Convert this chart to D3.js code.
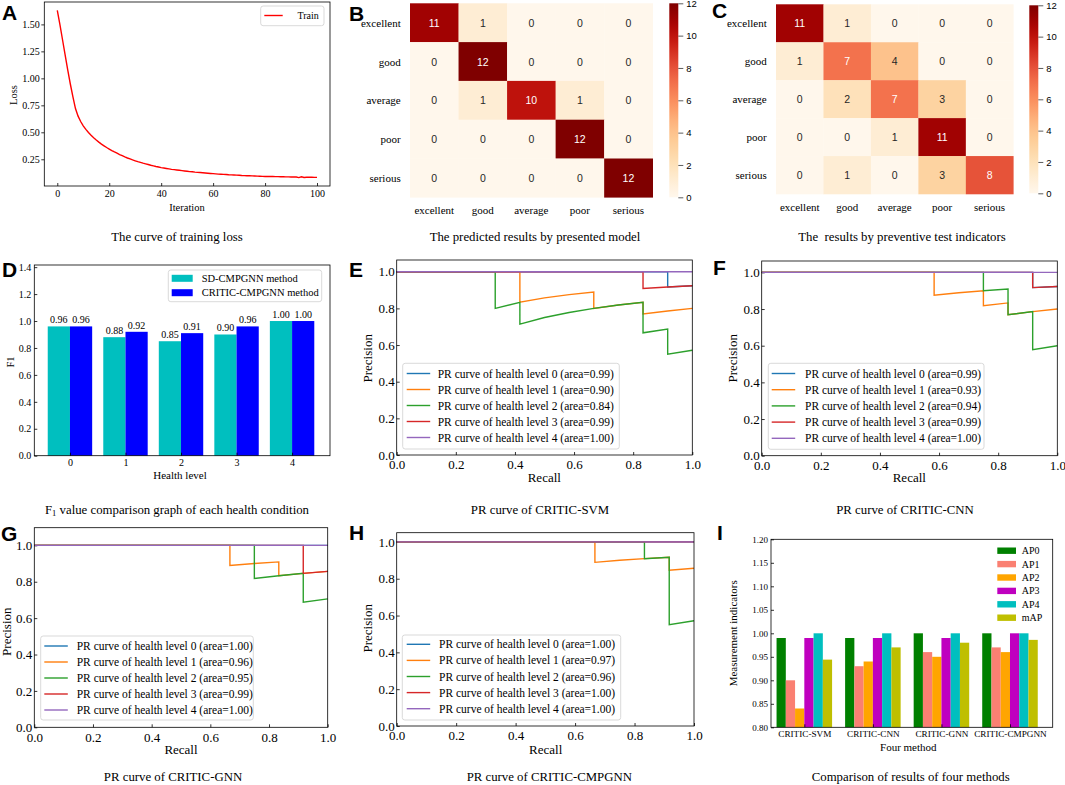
<!DOCTYPE html>
<html>
<head>
<meta charset="utf-8">
<title>Health level evaluation results</title>
<script src="https://d3js.org/d3.v7.min.js"></script>
<style>
  body { margin: 0; background: #fff; }
  svg text { font-family: "Liberation Serif", "Times New Roman", serif; fill: #000; }
  svg text.sans { font-family: "Liberation Sans", Arial, sans-serif; }
  svg text.letter { font-family: "Liberation Sans", Arial, sans-serif; font-weight: bold; font-size: 21px; }
</style>
</head>
<body>
<div id="fig"></div>
<script>

// ---- data ----
var lossTrain = [
  1.63, 1.50, 1.36, 1.22, 1.08, 0.95, 0.83, 0.72, 0.65, 0.60,
  0.56, 0.527, 0.498, 0.472, 0.449, 0.428, 0.409, 0.391, 0.375, 0.359,
  0.345, 0.331, 0.318, 0.306, 0.294, 0.283, 0.272, 0.262, 0.253, 0.244,
  0.236, 0.228, 0.221, 0.214, 0.208, 0.202, 0.195, 0.189, 0.183, 0.178,
  0.173, 0.169, 0.165, 0.161, 0.157, 0.154, 0.151, 0.148, 0.145, 0.142,
  0.139, 0.136, 0.134, 0.131, 0.129, 0.127, 0.125, 0.123, 0.121, 0.119,
  0.117, 0.115, 0.113, 0.112, 0.110, 0.109, 0.107, 0.106, 0.105, 0.103,
  0.102, 0.100, 0.099, 0.098, 0.097, 0.096, 0.095, 0.094, 0.093, 0.092,
  0.091, 0.091, 0.090, 0.090, 0.089, 0.089, 0.088, 0.088, 0.087, 0.087,
  0.086, 0.086, 0.086, 0.080, 0.088, 0.082, 0.084, 0.083, 0.083, 0.082,
  0.082
];
var lossTicks = [0, 20, 40, 60, 80, 100];
var lossYTicks = [0.25, 0.50, 0.75, 1.00, 1.25, 1.50];

var levels = ["excellent", "good", "average", "poor", "serious"];
var cmPresented = [
  [11, 1, 0, 0, 0],
  [0, 12, 0, 0, 0],
  [0, 1, 10, 1, 0],
  [0, 0, 0, 12, 0],
  [0, 0, 0, 0, 12]
];
var cmIndicators = [
  [11, 1, 0, 0, 0],
  [1, 7, 4, 0, 0],
  [0, 2, 7, 3, 0],
  [0, 0, 1, 11, 0],
  [0, 1, 0, 3, 8]
];
var cbTicks = [0, 2, 4, 6, 8, 10, 12];

var healthLevels = [0, 1, 2, 3, 4];
var f1SD = [0.96, 0.88, 0.85, 0.90, 1.00];
var f1Critic = [0.96, 0.92, 0.91, 0.96, 1.00];
var f1Ticks = [0, 0.2, 0.4, 0.6, 0.8, 1.0, 1.2, 1.4];
var f1Names = ["SD-CMPGNN method", "CRITIC-CMPGNN method"];

var prTicks = [0, 0.2, 0.4, 0.6, 0.8, 1.0];
var prColors = ["#1f77b4", "#ff7f0e", "#2ca02c", "#d62728", "#9467bd"];

var svmRecall = [
  [0, 0.9167, 0.9167, 1],
  [0, 0.4167, 0.4167, 0.5, 0.5833, 0.6667, 0.6667, 0.75, 0.8333, 0.8333, 0.9167, 1],
  [0, 0.3333, 0.3333, 0.4167, 0.4167, 0.5, 0.5833, 0.6667, 0.75, 0.8333, 0.8333, 0.9167, 0.9167, 1],
  [0, 0.8333, 0.8333, 0.9167, 1],
  [0, 1]
];
var svmPrecision = [
  [1, 1, 0.9167, 0.9231],
  [1, 1, 0.8333, 0.8571, 0.875, 0.8889, 0.8, 0.8182, 0.8333, 0.7692, 0.7857, 0.8],
  [1, 1, 0.8, 0.8333, 0.7143, 0.75, 0.7778, 0.8, 0.8182, 0.8333, 0.6667, 0.6875, 0.55, 0.5714],
  [1, 1, 0.9091, 0.9167, 0.9231],
  [1, 1]
];
var svmArea = [0.99, 0.90, 0.84, 0.99, 1.00];

var cnnRecall = [
  [0, 0.9167, 0.9167, 1],
  [0, 0.5833, 0.5833, 0.6667, 0.75, 0.75, 0.8333, 0.8333, 0.9167, 1],
  [0, 0.75, 0.75, 0.8333, 0.8333, 0.9167, 0.9167, 1],
  [0, 0.9167, 0.9167, 1],
  [0, 1]
];
var cnnPrecision = [
  [1, 1, 0.9167, 0.9231],
  [1, 1, 0.875, 0.8889, 0.9, 0.8182, 0.8333, 0.7692, 0.7857, 0.8],
  [1, 1, 0.9, 0.9091, 0.7692, 0.7857, 0.5789, 0.6],
  [1, 1, 0.9167, 0.9231],
  [1, 1]
];
var cnnArea = [0.99, 0.93, 0.94, 0.99, 1.00];

var gnnRecall = [
  [0, 1],
  [0, 0.6667, 0.6667, 0.75, 0.8333, 0.8333, 0.9167, 1],
  [0, 0.75, 0.75, 0.8333, 0.9167, 0.9167, 1],
  [0, 0.9167, 0.9167, 1],
  [0, 1]
];
var gnnPrecision = [
  [1, 1],
  [1, 1, 0.8889, 0.9, 0.9091, 0.8333, 0.8462, 0.8571],
  [1, 1, 0.8182, 0.8333, 0.8462, 0.6875, 0.7059],
  [1, 1, 0.8462, 0.8571],
  [1, 1]
];
var gnnArea = [1.00, 0.96, 0.95, 0.99, 1.00];

var cmpRecall = [
  [0, 1],
  [0, 0.6667, 0.6667, 0.75, 0.8333, 0.9167, 0.9167, 1],
  [0, 0.8333, 0.8333, 0.9167, 0.9167, 1],
  [0, 1],
  [0, 1]
];
var cmpPrecision = [
  [1, 1],
  [1, 1, 0.8889, 0.9, 0.9091, 0.9167, 0.8462, 0.8571],
  [1, 1, 0.9091, 0.9167, 0.55, 0.5714],
  [1, 1],
  [1, 1]
];
var cmpArea = [1.00, 0.97, 0.96, 1.00, 1.00];

var methods = ["CRITIC-SVM", "CRITIC-CNN", "CRITIC-GNN", "CRITIC-CMPGNN"];
var apNames = ["AP0", "AP1", "AP2", "AP3", "AP4", "mAP"];
var apColors = ["#008000", "#fa8072", "#ffa500", "#bf00bf", "#00bfbf", "#bfbf00"];
var ap0 = [0.99, 0.99, 1.00, 1.00];
var ap1 = [0.90, 0.93, 0.96, 0.97];
var ap2 = [0.84, 0.94, 0.95, 0.96];
var ap3 = [0.99, 0.99, 0.99, 1.00];
var ap4 = [1.00, 1.00, 1.00, 1.00];
var mAP = [0.944, 0.97, 0.98, 0.986];
var apTicks = [0.80, 0.85, 0.90, 0.95, 1.00, 1.05, 1.10, 1.15, 1.20];

// ---- drawing ----
var svg = d3.select("#fig").append("svg")
    .attr("width", 1065)
    .attr("height", 785);

function styleAxis(g, fs, cls) {
  g.attr("font-family", null).attr("font-size", fs);
  g.select(".domain").remove();
  g.selectAll(".tick line").attr("stroke", "#000").attr("stroke-width", 0.8);
  g.selectAll(".tick text").attr("fill", "#000");
  if (cls) g.selectAll(".tick text").attr("class", cls);
}

function frame(x0, y0, x1, y1) {
  svg.append("rect")
     .attr("x", x0).attr("y", y0)
     .attr("width", x1 - x0).attr("height", y1 - y0)
     .attr("fill", "none").attr("stroke", "#000").attr("stroke-width", 0.8);
}

function label(txt, x, y, fs, rot, anchor) {
  var t = svg.append("text")
     .attr("x", x).attr("y", y)
     .attr("font-size", fs)
     .attr("text-anchor", anchor || "middle")
     .attr("dominant-baseline", "central")
     .text(txt);
  if (rot) t.attr("transform", "rotate(-90," + x + "," + y + ")");
  return t;
}

function legendBox(x0, y0, x1, y1) {
  svg.append("rect")
     .attr("x", x0).attr("y", y0)
     .attr("width", x1 - x0).attr("height", y1 - y0)
     .attr("rx", 2.5)
     .attr("fill", "#fff").attr("fill-opacity", 0.8)
     .attr("stroke", "#cfcfcf").attr("stroke-width", 0.8);
}

// panel letters
[["A", 2, 20], ["B", 349, 21], ["C", 712, 18], ["D", 2, 277], ["E", 349, 277],
 ["F", 713, 275], ["G", 1, 541], ["H", 349, 540], ["I", 717, 540]].forEach(function(d_){
  svg.append("text").attr("class", "letter").attr("x", d_[1]).attr("y", d_[2]).text(d_[0]);
});

// ---- A: training loss ----
var xA = d3.scaleLinear().domain([-5, 105]).range([44.3, 330]);
var yA = d3.scaleLinear().domain([0.0025, 1.7075]).range([186, 2]);

svg.append("g").attr("transform", "translate(0,186)")
   .call(d3.axisBottom(xA).tickValues(lossTicks).tickFormat(d3.format("d")).tickSizeInner(-3).tickSizeOuter(0).tickPadding(4))
   .call(styleAxis, 10);
svg.append("g").attr("transform", "translate(44.3,0)")
   .call(d3.axisLeft(yA).tickValues(lossYTicks).tickFormat(d3.format(".2f")).tickSizeInner(3).tickSizeOuter(0).tickPadding(1.5))
   .call(styleAxis, 10);

svg.append("path")
   .datum(lossTrain)
   .attr("fill", "none").attr("stroke", "#ff0000").attr("stroke-width", 1.4)
   .attr("d", d3.line().x(function(d_, i_){ return xA(i_); }).y(function(d_){ return yA(d_); }));
frame(44.3, 2, 330, 186);

legendBox(260.7, 6, 324, 25.7);
svg.append("line").attr("x1", 264.3).attr("x2", 282.7).attr("y1", 15.5).attr("y2", 15.5)
   .attr("stroke", "#ff0000").attr("stroke-width", 1.4);
label("Train", 297.5, 15.5, 10, false, "start");

label("Loss", 13, 95, 10.5, true);
label("Iteration", 187, 207.5, 10.5);
label("The curve of training loss", 177, 237, 12.8);

// ---- B, C: confusion matrices ----
var cmColor = d3.scaleSequential(d3.interpolateOrRd).domain([0, 12]);

var grad = svg.append("defs").append("linearGradient")
   .attr("id", "orrd").attr("x1", 0).attr("x2", 0).attr("y1", 1).attr("y2", 0);
d3.range(0, 1.0001, 0.05).forEach(function(t_){
  grad.append("stop").attr("offset", t_).attr("stop-color", d3.interpolateOrRd(t_));
});

function heatmap(m, x0, x1, y0, y1, cb, rowX, colY) {
  var xs = d3.scaleBand().domain(levels).range([x0, x1]);
  var ys = d3.scaleBand().domain(levels).range([y0, y1]);
  var g = svg.append("g");
  m.forEach(function(row, r){
    row.forEach(function(v, c){
      g.append("rect")
       .attr("x", xs(levels[c])).attr("y", ys(levels[r]))
       .attr("width", xs.bandwidth() + 0.3).attr("height", ys.bandwidth() + 0.3)
       .attr("fill", cmColor(v));
      g.append("text").attr("class", "sans")
       .attr("x", xs(levels[c]) + xs.bandwidth() / 2)
       .attr("y", ys(levels[r]) + ys.bandwidth() / 2)
       .attr("text-anchor", "middle").attr("dominant-baseline", "central")
       .attr("font-size", 10.5)
       .style("fill", v >= 7 ? "#fff" : "#262626")
       .text(v);
    });
  });
  levels.forEach(function(l_){
    label(l_, rowX, ys(l_) + ys.bandwidth() / 2, 11, false, "end");
    label(l_, xs(l_) + xs.bandwidth() / 2, colY, 11);
  });
  svg.append("rect")
     .attr("x", cb[0]).attr("y", cb[2]).attr("width", cb[1] - cb[0]).attr("height", cb[3] - cb[2])
     .attr("fill", "url(#orrd)");
  var cs = d3.scaleLinear().domain([0, 12]).range([cb[3], cb[2]]);
  svg.append("g").attr("transform", "translate(" + cb[1] + ",0)")
     .call(d3.axisRight(cs).tickValues(cbTicks).tickSize(5).tickPadding(3))
     .call(styleAxis, 9.5, "sans")
     .selectAll(".tick line").attr("stroke", "#333");
}

heatmap(cmPresented, 410, 652.7, 3.3, 197.3, [669.3, 678.3, 3.3, 197.3], 400.7, 210);
label("The predicted results by presented model", 535, 237, 12.8);

heatmap(cmIndicators, 776, 1013.3, 4.3, 194, [1029.3, 1038.3, 5.3, 193.3], 766.7, 207);
label("The  results by preventive test indicators", 902, 237, 12.8).style("white-space", "pre");

// ---- D: F1 bars ----
var xD = d3.scaleLinear().domain([-0.642, 4.683]).range([34.3, 330]);
var yD = d3.scaleLinear().domain([0, 1.416]).range([455.7, 265]);
var barW = 0.4;

svg.append("g").selectAll("rect.sd").data(f1SD).enter().append("rect")
   .attr("x", function(d_, i_){ return xD(healthLevels[i_] - barW); })
   .attr("width", xD(barW) - xD(0))
   .attr("y", function(d_){ return yD(d_); })
   .attr("height", function(d_){ return yD(0) - yD(d_); })
   .attr("fill", "#00bfbf");
svg.append("g").selectAll("rect.cr").data(f1Critic).enter().append("rect")
   .attr("x", function(d_, i_){ return xD(healthLevels[i_]); })
   .attr("width", xD(barW) - xD(0))
   .attr("y", function(d_){ return yD(d_); })
   .attr("height", function(d_){ return yD(0) - yD(d_); })
   .attr("fill", "#0000ff");
[[f1SD, -barW / 2], [f1Critic, barW / 2]].forEach(function(s_){
  s_[0].forEach(function(v, i_){
    svg.append("text")
       .attr("x", xD(healthLevels[i_] + s_[1])).attr("y", yD(v) - 3)
       .attr("text-anchor", "middle").attr("font-size", 10)
       .text(d3.format(".2f")(v));
  });
});

svg.append("g").attr("transform", "translate(0,455.7)")
   .call(d3.axisBottom(xD).tickValues(healthLevels).tickFormat(d3.format("d")).tickSizeInner(-3).tickSizeOuter(0).tickPadding(3))
   .call(styleAxis, 10);
svg.append("g").attr("transform", "translate(34.3,0)")
   .call(d3.axisLeft(yD).tickValues(f1Ticks).tickFormat(d3.format(".1f")).tickSizeInner(-3).tickSizeOuter(0).tickPadding(3))
   .call(styleAxis, 10);
frame(34.3, 265, 330, 455.7);

legendBox(168.3, 270, 321.7, 301.7);
[["#00bfbf", 278.3], ["#0000ff", 292.7]].forEach(function(d_, i_){
  svg.append("rect").attr("x", 171.7).attr("y", d_[1] - 3.5).attr("width", 21).attr("height", 7).attr("fill", d_[0]);
  label(f1Names[i_], 201.7, d_[1], 10.5, false, "start");
});
label("F1", 10, 362, 10.5, true);
label("Health level", 180, 475, 11);
var capD = label("", 177, 510, 12.8);
capD.append("tspan").text("F");
capD.append("tspan").attr("font-size", 8.5).attr("dy", 3).text("1");
capD.append("tspan").attr("dy", -3).text(" value comparison graph of each health condition");

// ---- E-H: PR curves ----
function prPanel(p) {
  var x = d3.scaleLinear().domain([0, 1]).range([p.x0, p.x1]);
  var y = d3.scaleLinear().domain([0, p.ytop]).range([p.y1, p.y0]);
  svg.append("g").attr("transform", "translate(0," + p.y1 + ")")
     .call(d3.axisBottom(x).tickValues(prTicks).tickFormat(d3.format(".1f")).tickSizeInner(-3).tickSizeOuter(0).tickPadding(5))
     .call(styleAxis, 13);
  svg.append("g").attr("transform", "translate(" + p.x0 + ",0)")
     .call(d3.axisLeft(y).tickValues(prTicks).tickFormat(d3.format(".1f")).tickSizeInner(-3).tickSizeOuter(0).tickPadding(2))
     .call(styleAxis, 13);
  var line = d3.line().x(function(d_){ return x(d_[0]); }).y(function(d_){ return y(d_[1]); });
  p.recall.forEach(function(r_, k){
    svg.append("path")
       .datum(d3.zip(r_, p.precision[k]))
       .attr("fill", "none").attr("stroke", prColors[k]).attr("stroke-width", 1.4)
       .attr("d", line);
  });
  frame(p.x0, p.y0, p.x1, p.y1);
  legendBox(p.lg[0], p.lg[1], p.lg[2], p.lg[3]);
  p.area.forEach(function(a_, k){
    var yy = p.lg[4] + k * p.lg[5];
    svg.append("line").attr("x1", p.lg[6]).attr("x2", p.lg[6] + 23.5).attr("y1", yy).attr("y2", yy)
       .attr("stroke", prColors[k]).attr("stroke-width", 1.4);
    label("PR curve of health level " + k + " (area=" + d3.format(".2f")(a_) + ")", p.lg[7], yy, 11.5, false, "start");
  });
  label("Precision", p.py[0], p.py[1], 13, true);
  label("Recall", p.rx[0], p.rx[1], 13);
  label(p.caption, p.cap[0], p.cap[1], 12.8);
}

prPanel({ x0: 396.7, x1: 692.3, y0: 260, y1: 455, ytop: 1.064,
  recall: svmRecall, precision: svmPrecision, area: svmArea,
  lg: [402.7, 363.3, 619.3, 449, 373.5, 16, 406.7, 437.7],
  py: [367.7, 358.3], rx: [544.3, 477.7], caption: "PR curve of CRITIC-SVM", cap: [540, 510] });

prPanel({ x0: 761.7, x1: 1057.3, y0: 261, y1: 455.7, ytop: 1.062,
  recall: cnnRecall, precision: cnnPrecision, area: cnnArea,
  lg: [768.3, 363.3, 984, 449.3, 373.5, 16.2, 771.7, 805],
  py: [732.7, 358.3], rx: [909.3, 477.7], caption: "PR curve of CRITIC-CNN", cap: [905, 510] });

prPanel({ x0: 34.3, x1: 327.7, y0: 527.7, y1: 727.3, ytop: 1.097,
  recall: gnnRecall, precision: gnnPrecision, area: gnnArea,
  lg: [40.7, 636, 253.3, 720, 646, 16, 44.3, 76.7],
  py: [6.5, 631.7], rx: [181, 749.3], caption: "PR curve of CRITIC-GNN", cap: [173, 776.7] });

prPanel({ x0: 396.7, x1: 694, y0: 532.7, y1: 726, ytop: 1.05,
  recall: cmpRecall, precision: cmpPrecision, area: cmpArea,
  lg: [402.3, 635, 620.7, 720, 644.3, 16.1, 406.7, 439],
  py: [367.7, 628.3], rx: [545.7, 749.3], caption: "PR curve of CRITIC-CMPGNN", cap: [549.3, 776.7] });

// ---- I: grouped AP bars ----
var xI = d3.scaleLinear().domain([-0.486, 3.623]).range([771, 1052.7]);
var yI = d3.scaleLinear().domain([0.8, 1.2]).range([727.3, 539.3]);
var apSeries = [ap0, ap1, ap2, ap3, ap4, mAP];
var apW = 0.135;

apSeries.forEach(function(s_, k){
  svg.append("g").selectAll("rect").data(s_).enter().append("rect")
     .attr("x", function(d_, i_){ return xI(i_ + (k - 3) * apW); })
     .attr("width", xI(apW) - xI(0))
     .attr("y", function(d_){ return yI(d_); })
     .attr("height", function(d_){ return yI(0.8) - yI(d_); })
     .attr("fill", apColors[k]);
});

svg.append("g").attr("transform", "translate(0,727.3)")
   .call(d3.axisBottom(xI).tickValues([0, 1, 2, 3]).tickFormat(function(d_){ return methods[d_]; }).tickSizeInner(-3).tickSizeOuter(0).tickPadding(3))
   .call(styleAxis, 9.2);
svg.append("g").attr("transform", "translate(771,0)")
   .call(d3.axisLeft(yI).tickValues(apTicks).tickFormat(d3.format(".2f")).tickSizeInner(-3).tickSizeOuter(0).tickPadding(3))
   .call(styleAxis, 9);
frame(771, 539.3, 1052.7, 727.3);

apNames.forEach(function(n_, k){
  var yy = 550.7 + k * 13.4;
  svg.append("rect").attr("x", 997.3).attr("y", yy - 3.2).attr("width", 18.7).attr("height", 6.4).attr("fill", apColors[k]);
  label(n_, 1021.7, yy, 10, false, "start");
});
label("Measurement indicators", 733.3, 633.3, 11, true);
label("Four method", 908.3, 746.7, 11);
label("Comparison of results of four methods", 910.7, 777.3, 12.8);

</script>
</body>
</html>
